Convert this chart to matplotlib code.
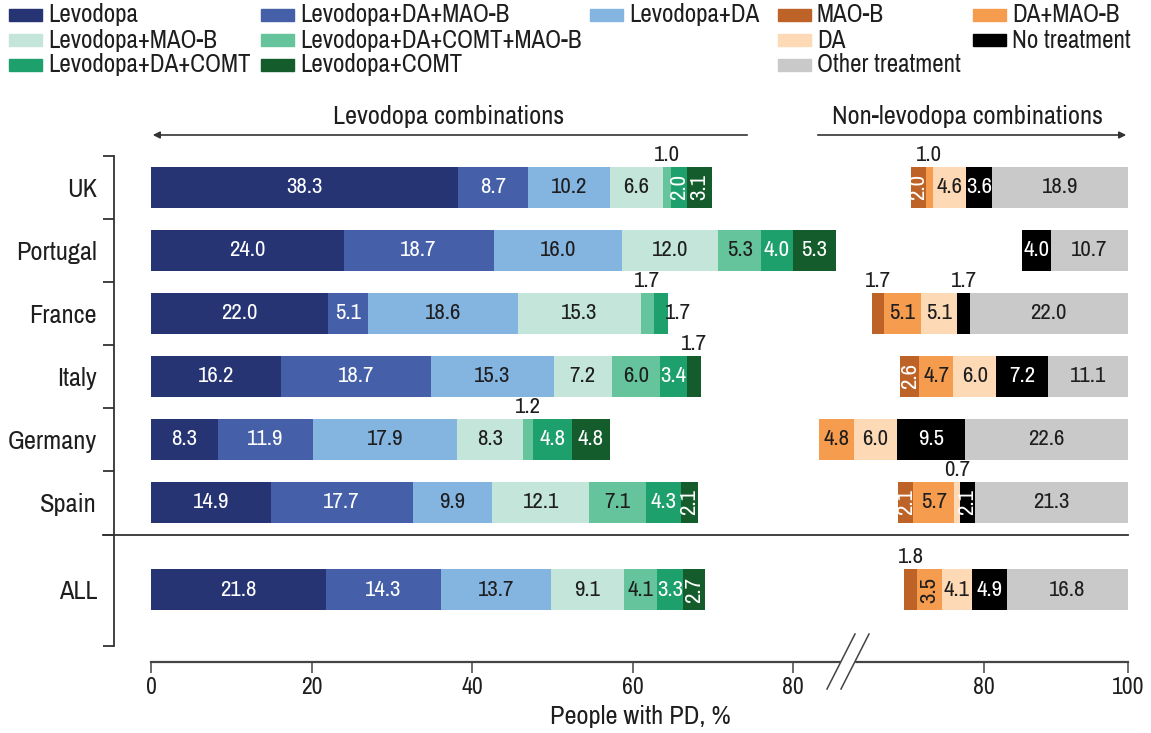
import matplotlib
matplotlib.use("Agg")
import matplotlib.pyplot as plt
from matplotlib.transforms import blended_transform_factory
from matplotlib.lines import Line2D
from matplotlib.patches import Rectangle, FancyArrowPatch

plt.rcParams['font.family'] = ['Archivo Narrow', 'Liberation Sans', 'DejaVu Sans']

# ---- data ----
countries = ["UK", "Portugal", "France", "Italy", "Germany", "Spain", "ALL"]

levo_series = ["Levodopa", "Levodopa+DA+MAO-B", "Levodopa+DA", "Levodopa+MAO-B",
               "Levodopa+DA+COMT+MAO-B", "Levodopa+DA+COMT", "Levodopa+COMT"]
levodopa = [38.3, 24.0, 22.0, 16.2, 8.3, 14.9, 21.8]
levo_da_maob = [8.7, 18.7, 5.1, 18.7, 11.9, 17.7, 14.3]
levo_da = [10.2, 16.0, 18.6, 15.3, 17.9, 9.9, 13.7]
levo_maob = [6.6, 12.0, 15.3, 7.2, 8.3, 12.1, 9.1]
levo_da_comt_maob = [1.0, 5.3, 1.7, 6.0, 1.2, 7.1, 4.1]
levo_da_comt = [2.0, 4.0, 1.7, 3.4, 4.8, 4.3, 3.3]
levo_comt = [3.1, 5.3, 0.0, 1.7, 4.8, 2.1, 2.7]

non_series = ["MAO-B", "DA+MAO-B", "DA", "No treatment", "Other treatment"]
maob = [2.0, 0.0, 1.7, 2.6, 0.0, 2.1, 1.8]
da_maob = [1.0, 0.0, 5.1, 4.7, 4.8, 5.7, 3.5]
da = [4.6, 0.0, 5.1, 6.0, 6.0, 0.7, 4.1]
no_treatment = [3.6, 4.0, 1.7, 7.2, 9.5, 2.1, 4.9]
other_treatment = [18.9, 10.7, 22.0, 11.1, 22.6, 21.3, 16.8]

levo_values = [levodopa, levo_da_maob, levo_da, levo_maob, levo_da_comt_maob, levo_da_comt, levo_comt]
non_values = [maob, da_maob, da, no_treatment, other_treatment]

colors = {
    "Levodopa": "#263473",
    "Levodopa+DA+MAO-B": "#455fa9",
    "Levodopa+DA": "#84b4e0",
    "Levodopa+MAO-B": "#c3e5da",
    "Levodopa+DA+COMT+MAO-B": "#66c49c",
    "Levodopa+DA+COMT": "#1ea06c",
    "Levodopa+COMT": "#145c2c",
    "MAO-B": "#bd6328",
    "DA+MAO-B": "#f69c4f",
    "DA": "#fdd9b5",
    "No treatment": "#000000",
    "Other treatment": "#c9c9c9",
}
white_text = {"Levodopa", "Levodopa+DA+MAO-B", "Levodopa+DA+COMT", "Levodopa+COMT",
              "MAO-B", "No treatment"}
rotated = {("UK", "Levodopa+DA+COMT"), ("UK", "Levodopa+COMT"), ("UK", "MAO-B"),
           ("Italy", "MAO-B"), ("Spain", "Levodopa+COMT"), ("Spain", "MAO-B"),
           ("Spain", "No treatment"), ("ALL", "Levodopa+COMT"), ("ALL", "DA+MAO-B")}
beside = {("France", "Levodopa+DA+COMT")}

# ---- layout ----
W, H = 1151, 733
ypos = [0, 1, 2, 3, 4, 5, 6.39]
bar_h = 0.65
dark = "#1e1e1e"
fs = 16.5      # bar values
fs_leg = 18    # legend
fs_big = 19    # headers, countries, axis label
fs_tick = 17

def fx(px):
    return px / W

def fy(py):
    return 1 - py / H

fig = plt.figure(figsize=(W / 100, H / 100), dpi=100)
ax1 = fig.add_axes([fx(151), fy(662), (840 - 151) / W, (662 - 150) / H])
ax2 = fig.add_axes([fx(810), fy(662), (1128 - 810) / W, (662 - 150) / H])
ax1.set_xlim(0, 689 / 8.025)
ax2.set_xlim(100 - 318 / 7.2, 100)
for ax in (ax1, ax2):
    ax.set_ylim(7.54, -0.59)
    ax.patch.set_alpha(0)
    for s in ("top", "right"):
        ax.spines[s].set_visible(False)
    ax.spines["bottom"].set_color("#444444")
    ax.spines["bottom"].set_linewidth(1.6)
    ax.tick_params(axis="x", length=8, width=1.1, color="#444444", labelsize=fs_tick,
                   labelcolor=dark, pad=3)
ax2.spines["left"].set_visible(False)
ax2.set_yticks([])
ax2.spines["bottom"].set_bounds(100 - (1128 - 854) / 7.2, 100)
ax1.set_xticks([0, 20, 40, 60, 80])
ax2.set_xticks([80, 100])


def label(ax, x, y, v, name, row):
    col = "white" if name in white_text else dark
    txt = f"{v:.1f}"
    if (row, name) in beside:
        ax.text(x + v / 2 + 0.5, y, txt, ha="left", va="center", fontsize=fs, color=dark)
    elif v < 2:
        ax.text(x + v / 2, y - bar_h / 2 - 0.03, txt, ha="center", va="bottom",
                fontsize=fs, color=dark)
    elif (row, name) in rotated:
        ax.text(x + v / 2, y, txt, ha="center", va="center", fontsize=fs, color=col,
                rotation=90)
    else:
        ax.text(x + v / 2, y, txt, ha="center", va="center", fontsize=fs, color=col)


# left bars (stacked from 0)
for i, row in enumerate(countries):
    left = 0
    for name, vals in zip(levo_series, levo_values):
        v = vals[i]
        if v > 0:
            ax1.barh(ypos[i], v, left=left, height=bar_h, color=colors[name], linewidth=0)
            label(ax1, left, ypos[i], v, name, row)
        left += v

# right bars (stacked so they end at 100)
for i, row in enumerate(countries):
    total = sum(vals[i] for vals in non_values)
    left = 100 - total
    for name, vals in zip(non_series, non_values):
        v = vals[i]
        if v > 0:
            ax2.barh(ypos[i], v, left=left, height=bar_h, color=colors[name], linewidth=0)
            label(ax2, left, ypos[i], v, name, row)
        left += v

# bracket axis on the left
ax1.spines["left"].set_position(("outward", 37 * 0.72))
ax1.spines["left"].set_bounds(-0.5, 7.29)
ax1.spines["left"].set_color("#333333")
ax1.spines["left"].set_linewidth(1.3)
ax1.set_yticks([-0.5, 0.5, 1.5, 2.5, 3.5, 4.5, 5.52, 7.29])
ax1.set_yticklabels([])
ax1.tick_params(axis="y", which="major", length=8, width=1.3, color="#333333")
ax1.set_yticks(ypos, minor=True)
ax1.set_yticklabels(countries, minor=True)
ax1.tick_params(axis="y", which="minor", length=0, pad=17 * 0.72, labelsize=fs_big,
                labelcolor=dark)

# separator above ALL
tr = blended_transform_factory(fig.transFigure, ax1.transData)
ax1.plot([fx(103), fx(1128)], [5.52, 5.52], transform=tr, color="#333333", lw=1.3,
         clip_on=False)

# axis break marks
for x0 in (827, 841):
    fig.add_artist(Line2D([fx(x0), fx(x0 + 28)], [fy(689), fy(634)],
                          color="#444444", lw=1.1))
fig.add_artist(Rectangle((fx(841), fy(666)), fx(13), 8 / H, color="white", zorder=1))

# group headers with arrows
fig.text(fx(449), fy(116), "Levodopa combinations", ha="center", va="center",
         fontsize=fs_big, color=dark)
fig.text(fx(967), fy(116), "Non-levodopa combinations", ha="center", va="center",
         fontsize=fs_big, color=dark)
arrow = dict(arrowstyle="-|>", color="#333333", lw=1.2, mutation_scale=10)
fig.add_artist(FancyArrowPatch((fx(750), fy(135)), (fx(150), fy(135)),
                               transform=fig.transFigure, **arrow))
fig.add_artist(FancyArrowPatch((fx(815), fy(135)), (fx(1129), fy(135)),
                               transform=fig.transFigure, **arrow))

fig.text(fx(640), fy(717), "People with PD, %", ha="center", va="center",
         fontsize=fs_big, color=dark)

# legend laid out in fixed columns like the original
legend_cols = [["Levodopa", "Levodopa+MAO-B", "Levodopa+DA+COMT"],
               ["Levodopa+DA+MAO-B", "Levodopa+DA+COMT+MAO-B", "Levodopa+COMT"],
               ["Levodopa+DA", None, None],
               ["MAO-B", "DA", "Other treatment"],
               ["DA+MAO-B", "No treatment", None]]
col_x = [9, 261, 590, 778, 973]
row_y = [15, 40, 65]
for cx, names in zip(col_x, legend_cols):
    for ry, name in zip(row_y, names):
        if name is None:
            continue
        fig.add_artist(Rectangle((fx(cx), fy(ry + 6)), 33 / W, 12 / H,
                                 color=colors[name], transform=fig.transFigure))
        fig.text(fx(cx + 39), fy(ry), name, ha="left", va="center", fontsize=fs_leg,
                 color=dark)

fig.savefig("out.png", dpi=100)
